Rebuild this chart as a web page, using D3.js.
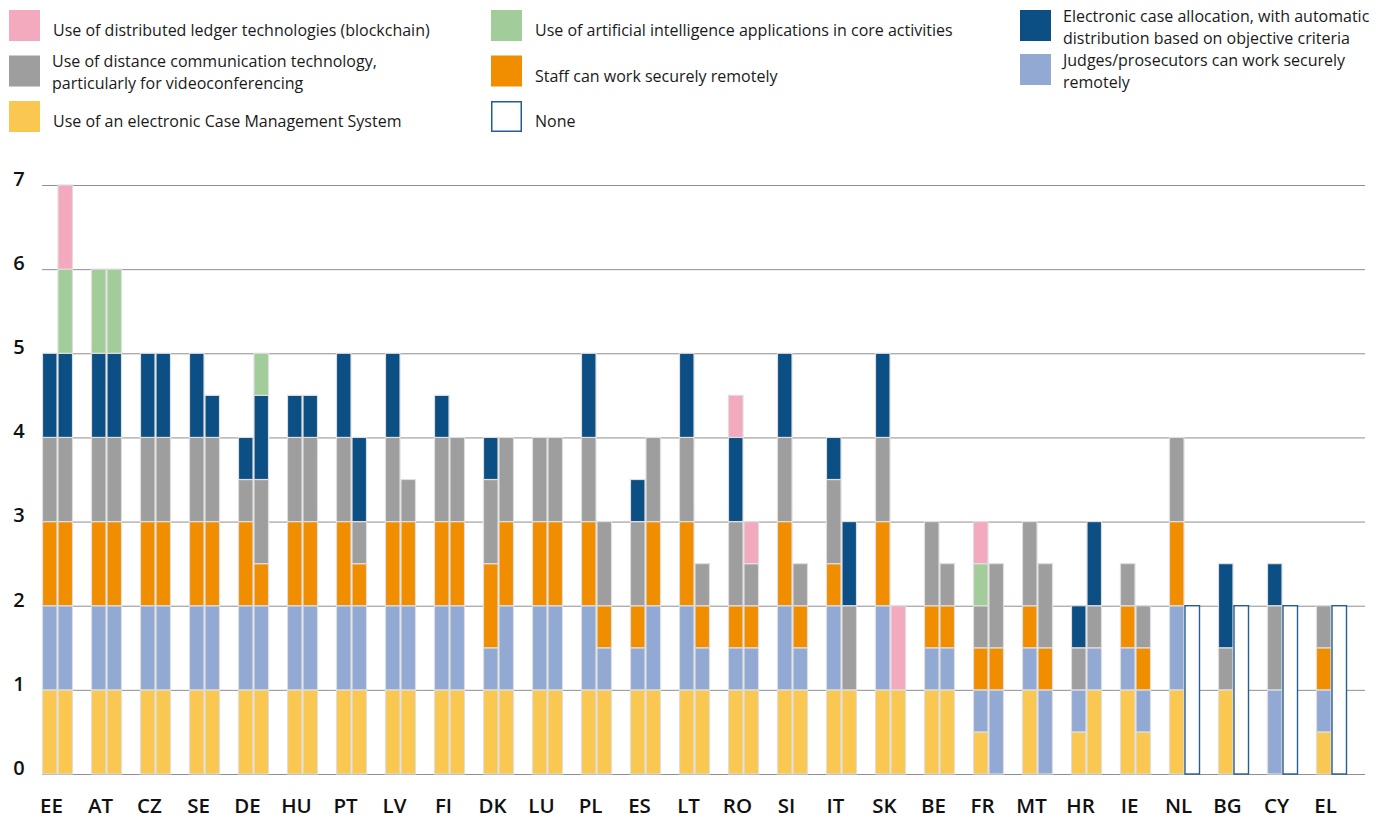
<!DOCTYPE html>
<html>
<head>
<meta charset="utf-8">
<script src="https://cdn.jsdelivr.net/npm/d3@7"></script>
<style>
  html, body { margin: 0; padding: 0; background: #fff; }
  svg { display: block; font-family: "Open Sans", "Noto Sans", sans-serif; }
</style>
</head>
<body>
<svg id="chart" width="1389" height="819"></svg>
<script>
// Member states, in display order
const countries = ["EE","AT","CZ","SE","DE","HU","PT","LV","FI","DK","LU","PL","ES","LT","RO","SI","IT","SK","BE","FR","MT","HR","IE","NL","BG","CY","EL"];

// Each country has two bars: courts (left) and prosecution services (right)
const cmsCourts          = [1,1,1,1,1,1,1,1,1,1,1,1,1,1,1,1,1,1,1,0.5,1,0.5,1,1,1,0,0.5];
const cmsProsecution     = [1,1,1,1,1,1,1,1,1,1,1,1,1,1,1,1,1,1,1,0,0,1,0.5,0,0,0,0];
const judgesCourts       = [1,1,1,1,1,1,1,1,1,0.5,1,1,0.5,1,0.5,1,1,1,0.5,0.5,0.5,0.5,0.5,1,0,1,0.5];
const judgesProsecution  = [1,1,1,1,1,1,1,1,1,1,1,0.5,1,0.5,0.5,0.5,0,0,0.5,1,1,0.5,0.5,0,0,0,0];
const staffCourts        = [1,1,1,1,1,1,1,1,1,1,1,1,0.5,1,0.5,1,0.5,1,0.5,0.5,0.5,0,0.5,1,0,0,0.5];
const staffProsecution   = [1,1,1,1,0.5,1,0.5,1,1,1,1,0.5,1,0.5,0.5,0.5,0,0,0.5,0.5,0.5,0,0.5,0,0,0,0];
const videoCourts        = [1,1,1,1,0.5,1,1,1,1,1,1,1,1,1,1,1,1,1,1,0.5,1,0.5,0.5,1,0.5,1,0.5];
const videoProsecution   = [1,1,1,1,1,1,0.5,0.5,1,1,1,1,1,0.5,0.5,0.5,1,0,0.5,1,1,0.5,0.5,0,0,0,0];
const allocCourts        = [1,1,1,1,0.5,0.5,1,1,0.5,0.5,0,1,0.5,1,1,1,0.5,1,0,0,0,0.5,0,0,1,0.5,0];
const allocProsecution   = [1,1,1,0.5,1,0.5,1,0,0,0,0,0,0,0,0,0,1,0,0,0,0,1,0,0,0,0,0];
const aiCourts           = [0,1,0,0,0,0,0,0,0,0,0,0,0,0,0,0,0,0,0,0.5,0,0,0,0,0,0,0];
const aiProsecution      = [1,1,0,0,0.5,0,0,0,0,0,0,0,0,0,0,0,0,0,0,0,0,0,0,0,0,0,0];
const chainCourts        = [0,0,0,0,0,0,0,0,0,0,0,0,0,0,0.5,0,0,0,0,0.5,0,0,0,0,0,0,0];
const chainProsecution   = [1,0,0,0,0,0,0,0,0,0,0,0,0,0,0.5,0,0,1,0,0,0,0,0,0,0,0,0];
const noneCourts         = [0,0,0,0,0,0,0,0,0,0,0,0,0,0,0,0,0,0,0,0,0,0,0,0,0,0,0];
const noneProsecution    = [0,0,0,0,0,0,0,0,0,0,0,0,0,0,0,0,0,0,0,0,0,0,0,2,2,2,2];

const yTicks = [0,1,2,3,4,5,6,7];

// Stack order, bottom to top
const seriesKeys = ["cms","judges","staff","video","alloc","ai","chain","none"];
const seriesLabels = {
  chain:  ["Use of distributed ledger technologies (blockchain)"],
  video:  ["Use of distance communication technology,", "particularly for videoconferencing"],
  cms:    ["Use of an electronic Case Management System"],
  ai:     ["Use of artificial intelligence applications in core activities"],
  staff:  ["Staff can work securely remotely"],
  none:   ["None"],
  alloc:  ["Electronic case allocation, with automatic", "distribution based on objective criteria"],
  judges: ["Judges/prosecutors can work securely", "remotely"]
};
const legendColumns = [["chain","video","cms"],["ai","staff","none"],["alloc","judges"]];

const colors = {
  cms: "#fac850", judges: "#92a9d3", staff: "#f18e00", video: "#9d9e9d",
  alloc: "#0b4f84", ai: "#a2cd9b", chain: "#f3a9be", none: "#ffffff"
};

const values = {
  cms:    {courts: cmsCourts,    prosecution: cmsProsecution},
  judges: {courts: judgesCourts, prosecution: judgesProsecution},
  staff:  {courts: staffCourts,  prosecution: staffProsecution},
  video:  {courts: videoCourts,  prosecution: videoProsecution},
  alloc:  {courts: allocCourts,  prosecution: allocProsecution},
  ai:     {courts: aiCourts,     prosecution: aiProsecution},
  chain:  {courts: chainCourts,  prosecution: chainProsecution},
  none:   {courts: noneCourts,   prosecution: noneProsecution}
};

const sides = ["courts","prosecution"];
const rows = [];
countries.forEach((c, i) => {
  sides.forEach(side => {
    const r = {country: c, side: side};
    seriesKeys.forEach(k => { r[k] = values[k][side][i]; });
    rows.push(r);
  });
});

const svg = d3.select("#chart");

// Scales
const plotLeft = 42, plotRight = 1365;
const x = d3.scaleBand().domain(countries).range([plotLeft, 1347]).paddingInner(0.367).paddingOuter(0);
const xSide = d3.scaleBand().domain(sides).range([0, x.bandwidth()]);
const y = d3.scaleLinear().domain([0, 7]).range([774, 185]);

// Gridlines and value axis
const yAxis = svg.append("g")
  .attr("transform", `translate(${plotLeft},0)`)
  .call(d3.axisLeft(y).tickValues(yTicks).tickSize(-(plotRight - plotLeft)).tickFormat(d3.format("d")));
yAxis.select(".domain").remove();
yAxis.selectAll(".tick line").attr("stroke", "#8f8f8f").attr("stroke-width", 1);
yAxis.selectAll(".tick text")
  .attr("x", -23).attr("dy", "0.02em")
  .attr("text-anchor", "middle")
  .attr("font-size", 20).attr("font-weight", 600).attr("fill", "#111")
  .attr("font-family", "'Open Sans', sans-serif");

// Stacked bars
const stack = d3.stack().keys(seriesKeys);
const layers = stack(rows);

const barsG = svg.append("g");
layers.forEach(layer => {
  const key = layer.key;
  barsG.append("g")
    .selectAll("rect")
    .data(layer.filter(d => d[1] - d[0] > 0))
    .join("rect")
      .attr("x", d => x(d.data.country) + xSide(d.data.side) + 0.5)
      .attr("width", xSide.bandwidth() - 1)
      .attr("y", d => y(d[1]))
      .attr("height", d => y(d[0]) - y(d[1]))
      .attr("fill", colors[key])
      .attr("stroke", key === "none" ? "#245e92" : "#dedede")
      .attr("stroke-width", key === "none" ? 1.4 : 1.2);
});

// Country axis
const xAxis = svg.append("g")
  .attr("transform", `translate(0,${y(0)})`)
  .call(d3.axisBottom(x).tickSize(0));
xAxis.select(".domain").remove();
xAxis.selectAll(".tick text")
  .attr("x", -(x.bandwidth() / 2) + 9.5)
  .attr("y", 39)
  .attr("dy", 0)
  .attr("text-anchor", "middle")
  .attr("font-size", 20.5).attr("font-weight", 600).attr("fill", "#111")
  .attr("font-family", "'Open Sans', sans-serif");

// Legend
const legendX = [9, 491, 1020];
const legend = svg.append("g").attr("font-size", 16).attr("fill", "#1a1a1a");
legendColumns.forEach((col, ci) => {
  col.forEach((key, ri) => {
    const lines = seriesLabels[key];
    let top;
    if (ci === 2) top = 10 + ri * 44; else top = 10 + ri * 45.5;
    const g = legend.append("g").attr("transform", `translate(${legendX[ci]},${top})`);
    g.append("rect")
      .attr("x", key === "none" ? 0.75 : 0).attr("y", key === "none" ? 0.75 : 0)
      .attr("width", key === "none" ? 29.5 : 31).attr("height", key === "none" ? 29.5 : 31)
      .attr("fill", colors[key])
      .attr("stroke", key === "none" ? "#245e92" : "none")
      .attr("stroke-width", 1.5);
    const t = g.append("text").attr("x", 44);
    if (lines.length === 1) {
      t.append("tspan").attr("x", 44).attr("y", 26).text(lines[0]);
    } else {
      const base = ci === 2 ? 12 : 11;
      lines.forEach((ln, li) => {
        t.append("tspan").attr("x", 43).attr("y", base + li * 22).text(ln);
      });
    }
  });
});
</script>
</body>
</html>
